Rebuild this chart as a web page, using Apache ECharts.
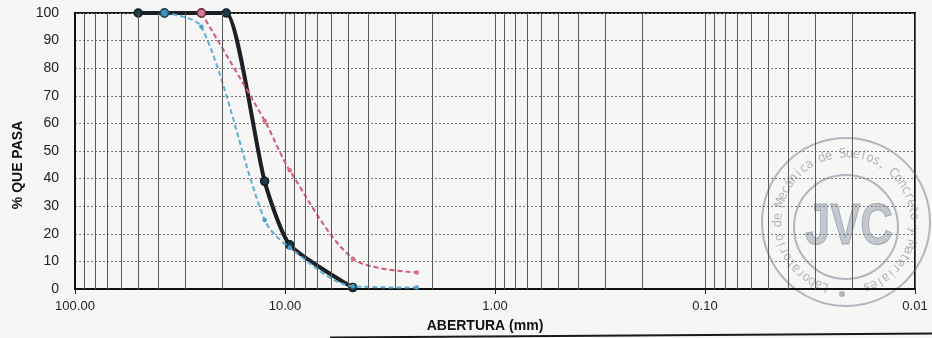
<!DOCTYPE html>
<html>
<head>
<meta charset="utf-8">
<script src="https://cdn.jsdelivr.net/npm/echarts@6/dist/echarts.min.js"></script>
<style>
  html, body { margin: 0; padding: 0; background: #f6f6f4; }
  #chart { width: 932px; height: 338px; }
</style>
</head>
<body>
<div id="chart"></div>
<script>
// Grading curves: sieve opening (mm) vs. percent passing
const sievesA = [50, 37.5, 25, 19.05, 12.5, 9.5, 4.75];
const passingA = [100, 100, 100, 100, 39, 16, 0.5];

const sievesB = [25, 12.5, 9.5, 4.75, 2.36];
const passingB = [100, 61, 43, 11, 6];

const sievesC = [37.5, 25, 12.5, 9.5, 4.75, 2.36];
const passingC = [100, 95, 25, 15, 1, 0.5];

// Log-paper vertical rulings: 2..9 within each decade
const decades = [0.01, 0.1, 1, 10];
const subDivisions = [2, 3, 4, 5, 6, 7, 8, 9];

const FONT = "'Liberation Sans', Arial, sans-serif";
const stampColor = 'rgba(105,118,140,0.50)';

function pairs(xs, ys) {
  return xs.map((x, i) => [x, ys[i]]);
}

// First point of a dashed curve gets a larger outlined marker
function withLeadMarker(xs, ys, fill, border) {
  return xs.map((x, i) => i === 0
    ? { value: [x, ys[i]], symbolSize: 8, itemStyle: { color: fill, borderColor: border, borderWidth: 1.5 } }
    : { value: [x, ys[i]] });
}

const ruling = [];
decades.forEach(d => subDivisions.forEach(k => ruling.push({ xAxis: +(d * k).toPrecision(6) })));

// Circular laboratory stamp drawn as graphic elements
function stampElements() {
  const cx = 846, cy = 222;
  const els = [
    { type: 'circle', shape: { cx, cy, r: 84 }, style: { fill: 'none', stroke: stampColor, lineWidth: 2 }, silent: true },
    { type: 'circle', shape: { cx, cy: cy + 5, r: 52 }, style: { fill: 'none', stroke: stampColor, lineWidth: 2 }, silent: true },
    { type: 'circle', shape: { cx: cx - 4, cy: 294, r: 3 }, style: { fill: stampColor }, silent: true },
    {
      type: 'text', x: cx + 3, y: cy + 6, scaleX: 0.78, silent: true,
      style: {
        text: 'JVC', fill: 'rgba(120,132,152,0.40)', stroke: 'rgba(95,108,130,0.5)', lineWidth: 1,
        font: "bold 58px 'Liberation Sans Narrow', 'Liberation Sans', sans-serif",
        align: 'center', verticalAlign: 'middle'
      }
    }
  ];
  const ring = 'Laboratorio de Mecánica de Suelos, Concreto y Materiales';
  const start = -162 * Math.PI / 180, end = 162 * Math.PI / 180;
  const step = (end - start) / (ring.length - 1);
  const r = 68;
  for (let i = 0; i < ring.length; i++) {
    const t = start + i * step;
    els.push({
      type: 'text', silent: true,
      x: cx + r * Math.sin(t), y: cy - r * Math.cos(t), rotation: -t,
      style: {
        text: ring[i], fill: stampColor,
        font: "13px 'DejaVu Sans Condensed', 'Liberation Sans Narrow', sans-serif",
        align: 'center', verticalAlign: 'middle'
      }
    });
  }
  // page rule under the chart
  els.push({ type: 'line', silent: true, shape: { x1: 330, y1: 337.5, x2: 932, y2: 333.5 }, style: { stroke: '#1a1a1a', lineWidth: 2 } });
  return els;
}

const chart = echarts.init(document.getElementById('chart'), null, { renderer: 'canvas' });

chart.setOption({
  backgroundColor: '#f6f6f4',
  animation: false,
  textStyle: { fontFamily: FONT },
  grid: {
    left: 75, right: 17, top: 13, bottom: 47,
    show: true, borderColor: '#111', borderWidth: 2, backgroundColor: 'transparent'
  },
  xAxis: {
    type: 'log', logBase: 10, min: 0.01, max: 100, inverse: true,
    name: 'ABERTURA (mm)', nameLocation: 'middle', nameGap: 30,
    nameTextStyle: { fontFamily: FONT, fontWeight: 'bold', fontSize: 14, color: '#111', padding: [0, 20, 0, 0] },
    axisLine: { show: true, lineStyle: { color: '#111', width: 2 } },
    axisTick: { show: true, length: 5, lineStyle: { color: '#222', width: 1 } },
    axisLabel: {
      formatter: v => Number(v).toFixed(2), fontSize: 13, color: '#222', margin: 11,
      showMinLabel: true, showMaxLabel: true
    },
    splitLine: { show: true, lineStyle: { color: '#5a5a5a', width: 1 } },
    minorTick: { show: false },
    minorSplitLine: { show: false }
  },
  yAxis: {
    type: 'value', min: 0, max: 100, interval: 10,
    name: '% QUE PASA', nameLocation: 'middle', nameGap: 50, nameRotate: 90,
    nameTextStyle: { fontFamily: FONT, fontWeight: 'bold', fontSize: 14, color: '#111', padding: [0, 28, 0, 0] },
    axisLine: { show: true, lineStyle: { color: '#111', width: 2 } },
    axisTick: { show: false },
    axisLabel: { fontSize: 14, color: '#222', margin: 16 },
    splitLine: { show: true, lineStyle: { color: '#7a7a7a', width: 1, type: [2, 2] } }
  },
  series: [
    {
      name: 'ruling', type: 'line', data: [], z: 1, silent: true,
      markLine: {
        silent: true, symbol: 'none', animation: false,
        label: { show: false },
        lineStyle: { color: '#5a5a5a', type: 'solid', width: 1 },
        emphasis: { disabled: true },
        data: ruling
      }
    },
    {
      name: 'Muestra', type: 'line', z: 3,
      data: pairs(sievesA, passingA),
      smooth: 0.2,
      symbol: 'circle', symbolSize: 8,
      lineStyle: { color: '#1b1f26', width: 4 },
      itemStyle: { color: '#1d3a4a', borderColor: '#0e1a22', borderWidth: 1.5 }
    },
    {
      name: 'Límite superior', type: 'line', z: 4,
      data: withLeadMarker(sievesB, passingB, '#d47d98', '#7e2c48'),
      smooth: 0.3,
      symbol: 'circle', symbolSize: 4.5,
      lineStyle: { color: '#d2587a', width: 2, type: [5, 3] },
      itemStyle: { color: '#d66a86' }
    },
    {
      name: 'Límite inferior', type: 'line', z: 4,
      data: withLeadMarker(sievesC, passingC, '#3f93b8', '#1c4a62'),
      smooth: 0.3,
      symbol: 'circle', symbolSize: 4.5,
      lineStyle: { color: '#5cb0d8', width: 2, type: [5, 3] },
      itemStyle: { color: '#4a9fc8' }
    }
  ],
  graphic: stampElements()
});
</script>
</body>
</html>
